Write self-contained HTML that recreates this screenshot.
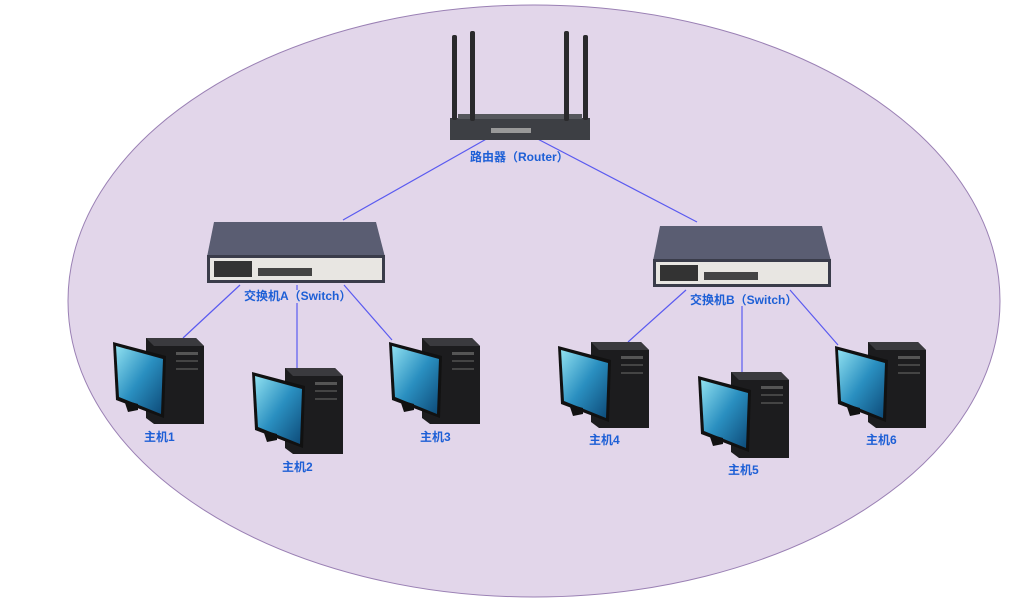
<!DOCTYPE html>
<html><head><meta charset="utf-8"><style>
html,body{margin:0;padding:0;background:#fff;width:1018px;height:606px;overflow:hidden}
text{font-family:"Liberation Sans","Noto Sans CJK SC",sans-serif;font-size:12px;fill:#1d5fd6;font-weight:bold}
</style></head><body>
<svg width="1018" height="606" viewBox="0 0 1018 606" xmlns="http://www.w3.org/2000/svg">
<defs>
<linearGradient id="scr" x1="0" y1="0" x2="1" y2="1"><stop offset="0" stop-color="#8fe0f0"/><stop offset="0.5" stop-color="#2a8fc0"/><stop offset="1" stop-color="#0d4a78"/></linearGradient>
<g id="pc">
<polygon points="0,0 50,0 58,8 58,86 8,86 0,80" fill="#1c1c1e"/>
<polygon points="0,0 50,0 58,8 8,8" fill="#3a3a3e"/>
<rect x="30" y="14" width="22" height="3" fill="#555"/>
<rect x="30" y="22" width="22" height="2" fill="#444"/>
<rect x="30" y="30" width="22" height="2" fill="#444"/>
<polygon points="-33,4 20,18 18,80 -30,62" fill="#111"/>
<polygon points="-30,8 17,21 15,76 -27,59" fill="url(#scr)"/>
<polygon points="-22,62 -8,66 -8,72 -18,74" fill="#111"/>
</g>
</defs>
<ellipse cx="534" cy="301" rx="466" ry="296" fill="#e2d6ea" stroke="#9a80b4" stroke-width="1"/>
<g stroke="#5a5af0" stroke-width="1.2">
<line x1="343" y1="220" x2="497" y2="133"/>
<line x1="530" y1="135" x2="697" y2="222"/>
<line x1="240" y1="285" x2="183" y2="338"/>
<line x1="297" y1="285" x2="297" y2="290"/><line x1="297" y1="303" x2="297" y2="368"/>
<line x1="344" y1="285" x2="392" y2="340"/>
<line x1="686" y1="290" x2="628" y2="342"/>
<line x1="742" y1="306" x2="742" y2="372"/>
<line x1="790" y1="290" x2="838" y2="345"/>
</g>
<!-- router -->
<g>
<rect x="450" y="118" width="140" height="22" fill="#3d3f44"/>
<rect x="458" y="114" width="124" height="5" fill="#55575c"/>
<rect x="491" y="128" width="40" height="5" fill="#999"/>
<rect x="452" y="35" width="5" height="85" rx="2" fill="#2a2a2c"/>
<rect x="470" y="31" width="5" height="90" rx="2" fill="#2a2a2c"/>
<rect x="564" y="31" width="5" height="90" rx="2" fill="#2a2a2c"/>
<rect x="583" y="35" width="5" height="85" rx="2" fill="#2a2a2c"/>
</g>
<text x="470" y="161">路由器（Router）</text>
<!-- switch A -->
<g>
<polygon points="214,222 376,222 385,257 207,257" fill="#5a5d72"/>
<rect x="207" y="255" width="178" height="28" fill="#3a3c4a"/>
<rect x="210" y="258" width="172" height="22" fill="#e8e6e2"/>
<rect x="214" y="261" width="38" height="16" fill="#333"/>
<rect x="258" y="268" width="54" height="8" fill="#444"/>
</g>
<text x="244" y="300">交换机A（Switch）</text>
<g>
<polygon points="660,226 822,226 831,261 653,261" fill="#5a5d72"/>
<rect x="653" y="259" width="178" height="28" fill="#3a3c4a"/>
<rect x="656" y="262" width="172" height="22" fill="#e8e6e2"/>
<rect x="660" y="265" width="38" height="16" fill="#333"/>
<rect x="704" y="272" width="54" height="8" fill="#444"/>
</g>
<text x="690" y="304">交换机B（Switch）</text>
<use href="#pc" x="146" y="338"/>
<use href="#pc" x="285" y="368"/>
<use href="#pc" x="422" y="338"/>
<use href="#pc" x="591" y="342"/>
<use href="#pc" x="731" y="372"/>
<use href="#pc" x="868" y="342"/>
<text x="144" y="441">主机1</text>
<text x="282" y="471">主机2</text>
<text x="420" y="441">主机3</text>
<text x="589" y="444">主机4</text>
<text x="728" y="474">主机5</text>
<text x="866" y="444">主机6</text>
</svg>
</body></html>
